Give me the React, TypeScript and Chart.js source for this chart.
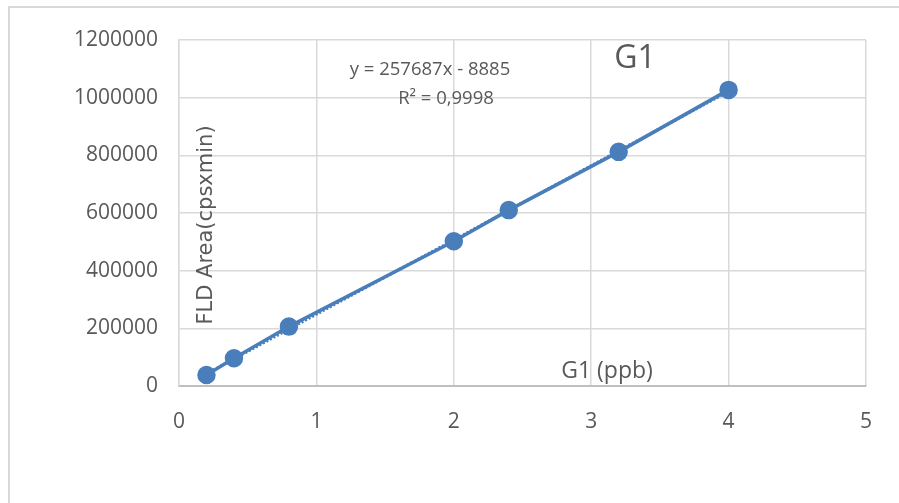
import React, { useEffect, useRef } from "react";
import { Chart, registerables } from "chart.js";

Chart.register(...registerables);

const concentrations = [0.2, 0.4, 0.8, 2.0, 2.4, 3.2, 4.0];
const areas = [38000, 96000, 206000, 502000, 610000, 812000, 1027000];
const trendSlope = 257687;
const trendIntercept = -8885;
const trendRange = [0.2, 4.0];
const equationText = "y = 257687x - 8885";
const r2Text = "R² = 0,9998";
const titleText = "G1";
const xTitleText = "G1 (ppb)";
const yTitleText = "FLD Area(cpsxmin)";

const BLUE = "#4A7EBB";
const GRAY = "#595959";
const GRID = "#D9D9D9";

const overlay = {
  id: "overlay",
  beforeDraw(chart: any) {
    const ctx = chart.ctx;
    ctx.save();
    ctx.fillStyle = "#ffffff";
    ctx.fillRect(0, 0, chart.width, chart.height);
    ctx.strokeStyle = "#D9D9D9";
    ctx.lineWidth = 2;
    ctx.beginPath();
    ctx.moveTo(8, 7);
    ctx.lineTo(chart.width, 7);
    ctx.moveTo(9, 7);
    ctx.lineTo(9, chart.height);
    ctx.stroke();
    ctx.restore();
  },
  afterDraw(chart: any) {
    const ctx = chart.ctx;
    ctx.save();
    ctx.fillStyle = GRAY;
    ctx.textAlign = "center";
    ctx.textBaseline = "alphabetic";
    ctx.font = "18.5px 'Open Sans'";
    ctx.fillText(equationText, 430, 75);
    ctx.fillText(r2Text, 446, 104);
    ctx.font = "32px 'Open Sans'";
    ctx.fillText(titleText, 635, 68);
    ctx.font = "23px 'Open Sans'";
    ctx.fillText(xTitleText, 607, 378);
    ctx.translate(212, 225);
    ctx.rotate(-Math.PI / 2);
    ctx.font = "21px 'DejaVu Sans'";
    ctx.fillText(yTitleText, 0, 0);
    ctx.restore();
  },
};

export default function App() {
  const ref = useRef<HTMLCanvasElement>(null);
  useEffect(() => {
    if (!ref.current) return;
    const chart = new Chart(ref.current, {
      type: "scatter",
      data: {
        datasets: [
          {
            label: "G1",
            data: concentrations.map((x, i) => ({ x, y: areas[i] })),
            showLine: true,
            borderColor: BLUE,
            backgroundColor: BLUE,
            borderWidth: 3.5,
            pointRadius: 7.5,
            pointHoverRadius: 7.5,
            order: 1,
          },
          {
            label: "Trend",
            data: trendRange.map((x) => ({ x, y: trendSlope * x + trendIntercept })),
            showLine: true,
            borderColor: BLUE,
            borderWidth: 3,
            borderDash: [2, 2],
            pointRadius: 0,
            order: 2,
          },
        ],
      },
      options: {
        animation: false,
        responsive: false,
        layout: { padding: { left: 0, right: 33, top: 40, bottom: 0 } },
        plugins: {
          legend: { display: false },
          tooltip: { enabled: false },
          title: { display: false },
        },
        scales: {
          x: {
            type: "linear",
            min: 0,
            max: 5,
            ticks: {
              stepSize: 1,
              color: GRAY,
              font: { family: "'Open Sans'", size: 21 },
              padding: 23,
            },
            grid: { color: GRID, lineWidth: 1.5, drawTicks: false },
            border: { color: "#BFBFBF", width: 2 },
            afterFit(scale: any) {
              scale.height = 117;
            },
          },
          y: {
            type: "linear",
            min: 0,
            max: 1200000,
            ticks: {
              stepSize: 200000,
              color: GRAY,
              font: { family: "'Open Sans'", size: 21 },
              padding: 21,
              callback: (v: any) => String(v),
            },
            grid: { color: GRID, lineWidth: 1.5, drawTicks: false },
            border: { color: GRID, width: 1.5 },
            afterFit(scale: any) {
              scale.width = 179;
            },
          },
        },
      },
      plugins: [overlay],
    });
    return () => chart.destroy();
  }, []);
  return (
    <div style={{ position: "fixed", left: 0, top: 0, width: 899, height: 503 }}>
      <canvas ref={ref} width={899} height={503} style={{ display: "block" }} />
    </div>
  );
}
